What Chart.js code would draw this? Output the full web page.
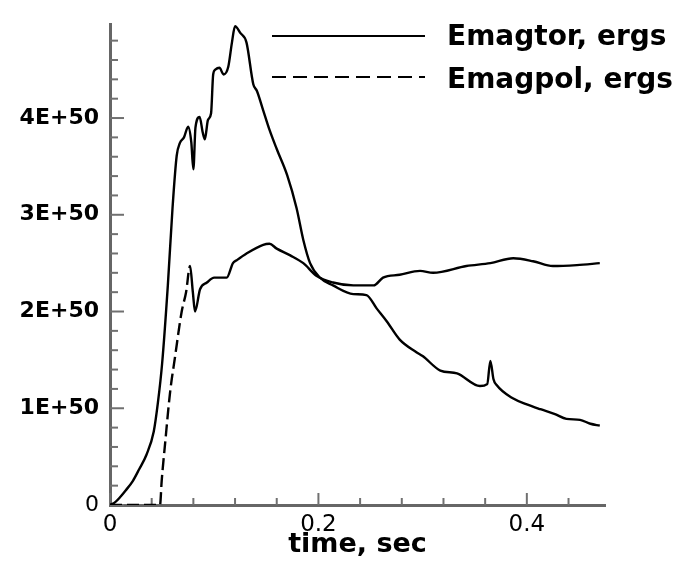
<!DOCTYPE html>
<html><head><meta charset="utf-8">
<script src="https://cdn.jsdelivr.net/npm/chart.js@4.4.1/dist/chart.umd.min.js"></script>
<style>html,body{margin:0;padding:0;background:#fff}#wrap{width:690px;height:561px;position:relative}</style>
</head><body><div id="wrap"><canvas id="c"></canvas></div>
<script>
// ---- data (energy in units of 1E+50 ergs) ----
const torTime = [0, 0.005, 0.0096, 0.015, 0.022, 0.028, 0.035, 0.042, 0.046, 0.050, 0.0555, 0.060, 0.064, 0.067, 0.071, 0.075, 0.078, 0.080, 0.082, 0.086, 0.089, 0.091, 0.094, 0.097, 0.099, 0.101, 0.105, 0.109, 0.1135, 0.117, 0.120, 0.125, 0.131, 0.1375, 0.141, 0.147, 0.153, 0.160, 0.170, 0.179, 0.1855, 0.192, 0.2015, 0.214, 0.2335, 0.246, 0.256, 0.2655, 0.278, 0.294, 0.300, 0.317, 0.333, 0.355, 0.362, 0.365, 0.368, 0.371, 0.387, 0.400, 0.413, 0.427, 0.438, 0.451, 0.461, 0.470];
const torEnergy = [0, 0.03, 0.08, 0.15, 0.25, 0.37, 0.52, 0.76, 1.06, 1.46, 2.27, 3.07, 3.61, 3.74, 3.80, 3.91, 3.75, 3.47, 3.90, 4.01, 3.85, 3.78, 3.98, 4.05, 4.45, 4.50, 4.52, 4.45, 4.53, 4.78, 4.95, 4.88, 4.78, 4.35, 4.28, 4.08, 3.88, 3.68, 3.41, 3.07, 2.74, 2.50, 2.35, 2.27, 2.18, 2.17, 2.03, 1.90, 1.71, 1.58, 1.54, 1.39, 1.36, 1.23, 1.25, 1.49, 1.30, 1.24, 1.10, 1.04, 0.99, 0.94, 0.89, 0.88, 0.84, 0.82];
const polTime = [0, 0.048, 0.0496, 0.053, 0.0576, 0.0624, 0.0688, 0.073, 0.0768, 0.0795, 0.0816, 0.0864, 0.093, 0.100, 0.1056, 0.112, 0.118, 0.1216, 0.131, 0.147, 0.153, 0.160, 0.173, 0.1855, 0.198, 0.214, 0.2335, 0.253, 0.262, 0.278, 0.2975, 0.310, 0.342, 0.365, 0.387, 0.406, 0.425, 0.448, 0.470];
const polEnergy = [0, 0, 0.25, 0.65, 1.16, 1.53, 2.00, 2.20, 2.47, 2.20, 2.00, 2.23, 2.30, 2.35, 2.35, 2.35, 2.50, 2.53, 2.60, 2.69, 2.70, 2.65, 2.58, 2.50, 2.37, 2.30, 2.27, 2.27, 2.35, 2.38, 2.42, 2.40, 2.47, 2.50, 2.55, 2.52, 2.47, 2.48, 2.50];
const seriesLabels = ['Emagtor, ergs', 'Emagpol, ergs'];
const xMajorTicks = [0, 0.2, 0.4];
const yMajorTicks = [0, 1, 2, 3, 4];
const yTickSuffix = 'E+50';
const xTitle = 'time, sec';

const isIn = (v, list) => list.some(m => Math.abs(m - v) < 1e-6);
const toPts = (xs, ys) => xs.map((x, i) => ({x: x, y: ys[i]}));

const innerTicks = {
  id: 'innerTicks',
  beforeDatasetsDraw(chart) {
    const {ctx, chartArea: a, scales: {x, y}} = chart;
    ctx.save();
    ctx.strokeStyle = '#707070';
    ctx.lineWidth = 2;
    x.ticks.forEach(t => {
      const px = x.getPixelForValue(t.value);
      const len = isIn(t.value, xMajorTicks) ? 12 : 7;
      ctx.beginPath(); ctx.moveTo(px, a.bottom); ctx.lineTo(px, a.bottom - len); ctx.stroke();
    });
    y.ticks.forEach(t => {
      const py = y.getPixelForValue(t.value);
      const len = isIn(t.value, yMajorTicks) ? 14 : 8;
      ctx.beginPath(); ctx.moveTo(a.left, py); ctx.lineTo(a.left + len, py); ctx.stroke();
    });
    ctx.restore();
  }
};

const inlineLegend = {
  id: 'inlineLegend',
  afterDraw(chart, args, o) {
    const ctx = chart.ctx;
    chart.data.datasets.forEach((ds, i) => {
      const ly = o.lineY[i];
      ctx.save();
      ctx.strokeStyle = ds.borderColor;
      ctx.lineWidth = 2.2;
      ctx.setLineDash(o.dash[i]);
      ctx.beginPath(); ctx.moveTo(o.x0, ly); ctx.lineTo(o.x1, ly); ctx.stroke();
      ctx.setLineDash([]);
      ctx.fillStyle = '#000';
      ctx.font = o.font;
      ctx.textAlign = 'left';
      ctx.textBaseline = 'alphabetic';
      ctx.fillText(ds.label, o.textX, o.textY[i]);
      ctx.restore();
    });
  }
};

new Chart(document.getElementById('c'), {
  type: 'line',
  data: {
    datasets: [
      {label: seriesLabels[0], data: toPts(torTime, torEnergy), borderColor: '#000', borderWidth: 2.4, pointRadius: 0, cubicInterpolationMode: 'monotone', fill: false},
      {label: seriesLabels[1], data: toPts(polTime, polEnergy), borderColor: '#000', borderWidth: 2.4, pointRadius: 0, cubicInterpolationMode: 'monotone', fill: false,
       borderDash: [12, 5],
       segment: { borderDash: c => (c.p0.parsed.x < 0.076 ? undefined : []) }}
    ]
  },
  options: {
    responsive: true,
    maintainAspectRatio: false,
    animation: false,
    events: [],
    layout: {padding: {top: 12, right: 85, bottom: 0, left: 0}},
    plugins: {
      legend: {display: false},
      tooltip: {enabled: false},
      inlineLegend: {x0: 272, x1: 425, lineY: [36, 77], dash: [[], [14, 7]], textX: 447, textY: [45, 88], font: 'bold 28px "DejaVu Sans"'}
    },
    scales: {
      x: {
        type: 'linear', min: 0, max: 0.475,
        afterFit: s => { s.height = 56; },
        grid: {display: false, drawTicks: false},
        border: {display: true, color: '#666', width: 3},
        ticks: {
          stepSize: 0.04, includeBounds: false, autoSkip: false, maxRotation: 0, padding: 6,
          color: '#000', font: {family: 'DejaVu Sans', size: 23},
          callback: v => (isIn(v, xMajorTicks) ? String(Math.round(v * 10) / 10) : '')
        },
        title: {display: true, text: xTitle, color: '#000', font: {family: 'DejaVu Sans', size: 27, weight: 'bold'}, padding: {top: 0, bottom: 0}}
      },
      y: {
        type: 'linear', min: 0, max: 4.97,
        afterFit: s => { s.width = 110; },
        grid: {display: false, drawTicks: false},
        border: {display: true, color: '#666', width: 3},
        ticks: {
          stepSize: 0.2, includeBounds: false, autoSkip: false, padding: 11,
          color: '#000',
          font: c => ({family: 'DejaVu Sans', size: 22, weight: (c.tick && c.tick.value === 0) ? 'normal' : 'bold'}),
          callback: v => (isIn(v, yMajorTicks) ? (Math.round(v) === 0 ? '0' : Math.round(v) + yTickSuffix) : '')
        }
      }
    }
  },
  plugins: [innerTicks, inlineLegend]
});
</script>
</body></html>
